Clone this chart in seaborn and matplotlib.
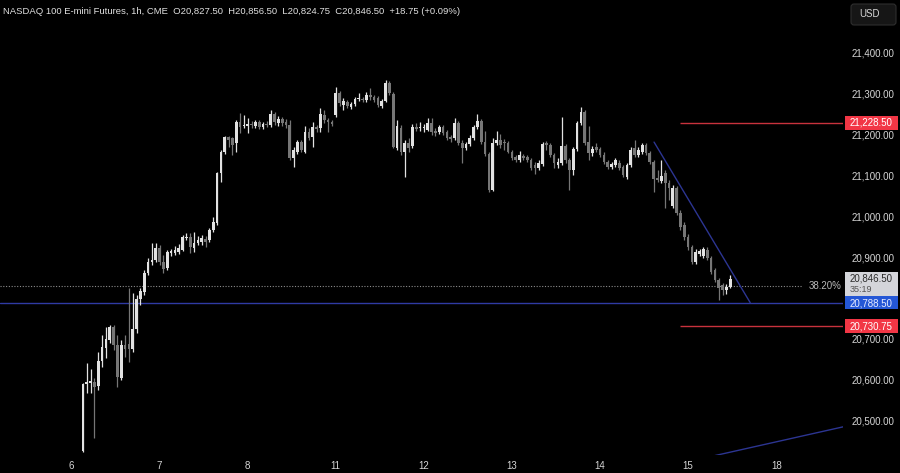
import numpy as np
import pandas as pd
import matplotlib
matplotlib.use("Agg")
import matplotlib.pyplot as plt
import matplotlib.transforms as mtransforms
from matplotlib.patches import Rectangle, FancyBboxPatch
import seaborn as sns

# ---------------- data ----------------
opens = [20425, 20589, 20592, 20594, 20584, 20645, 20677, 20697, 20728, 20685,
         20604, 20685, 20687, 20675, 20724, 20797, 20814, 20861, 20887, 20892,
         20922, 20887, 20873, 20909, 20909, 20912, 20917, 20946, 20949, 20922,
         20934, 20936, 20944, 20941, 20966, 20983, 21105, 21156, 21193, 21191,
         21178, 21230, 21220, 21220, 21225, 21220, 21230, 21218, 21225, 21222,
         21249, 21228, 21237, 21230, 21223, 21142, 21156, 21181, 21156, 21206,
         21193, 21218, 21215, 21247, 21235, 21230, 21247, 21301, 21271, 21279,
         21267, 21274, 21286, 21286, 21284, 21296, 21291, 21289, 21269, 21281,
         21326, 21298, 21166, 21215, 21156, 21178, 21171, 21218, 21215, 21215,
         21211, 21227, 21208, 21205, 21218, 21205, 21193, 21191, 21227, 21178,
         21166, 21176, 21191, 21218, 21232, 21181, 21152, 21064, 21178, 21186,
         21181, 21178, 21156, 21144, 21137, 21147, 21144, 21137, 21125, 21117,
         21127, 21178, 21174, 21149, 21125, 21130, 21171, 21137, 21113, 21164,
         21227, 21254, 21181, 21154, 21169, 21164, 21149, 21132, 21120, 21125,
         21130, 21120, 21095, 21125, 21166, 21149, 21157, 21174, 21154, 21132,
         21093, 21086, 21105, 21081, 21024, 21068, 21008, 20978, 20949, 20924,
         20887, 20907, 20902, 20917, 20897, 20868, 20844, 20831, 20819, 20827.5]
highs = [20592, 20640, 20626, 20604, 20667, 20709, 20728, 20733, 20733, 20709,
         20697, 20709, 20824, 20812, 20807, 20824, 20868, 20897, 20934, 20934,
         20929, 20904, 20917, 20919, 20927, 20931, 20953, 20958, 20958, 20961,
         20951, 20953, 20951, 20971, 20997, 21108, 21161, 21195, 21195, 21193,
         21235, 21252, 21247, 21240, 21232, 21235, 21235, 21230, 21232, 21259,
         21254, 21245, 21242, 21237, 21235, 21169, 21186, 21186, 21220, 21215,
         21230, 21223, 21264, 21259, 21240, 21235, 21316, 21306, 21288, 21284,
         21279, 21291, 21301, 21291, 21303, 21313, 21296, 21293, 21286, 21333,
         21330, 21303, 21235, 21223, 21186, 21191, 21225, 21227, 21230, 21225,
         21240, 21240, 21215, 21223, 21223, 21211, 21198, 21240, 21232, 21186,
         21181, 21198, 21223, 21249, 21237, 21208, 21157, 21191, 21208, 21200,
         21188, 21183, 21162, 21149, 21159, 21152, 21149, 21142, 21132, 21137,
         21181, 21183, 21178, 21154, 21142, 21242, 21176, 21142, 21169, 21232,
         21267, 21259, 21220, 21171, 21178, 21169, 21157, 21137, 21132, 21142,
         21137, 21125, 21130, 21169, 21186, 21169, 21178, 21178, 21159, 21137,
         21113, 21137, 21113, 21088, 21076, 21073, 21015, 20985, 20956, 20929,
         20919, 20919, 20924, 20924, 20902, 20873, 20849, 20836, 20834, 20856.5]
lows = [20423, 20567, 20567, 20457, 20574, 20631, 20653, 20689, 20672, 20582,
        20599, 20655, 20643, 20667, 20714, 20782, 20807, 20856, 20880, 20887,
        20880, 20861, 20868, 20902, 20905, 20907, 20914, 20941, 20909, 20912,
        20929, 20929, 20924, 20936, 20961, 20978, 21083, 21151, 21169, 21149,
        21156, 21203, 21215, 21203, 21215, 21215, 21213, 21213, 21218, 21218,
        21223, 21220, 21220, 21215, 21137, 21120, 21151, 21156, 21154, 21186,
        21169, 21205, 21205, 21227, 21205, 21220, 21242, 21269, 21259, 21264,
        21262, 21269, 21281, 21279, 21279, 21284, 21279, 21267, 21264, 21279,
        21296, 21166, 21162, 21149, 21095, 21156, 21166, 21208, 21208, 21205,
        21208, 21198, 21196, 21200, 21198, 21186, 21181, 21186, 21174, 21130,
        21162, 21171, 21186, 21213, 21176, 21147, 21059, 21061, 21174, 21166,
        21162, 21154, 21137, 21132, 21132, 21137, 21132, 21113, 21103, 21113,
        21122, 21162, 21144, 21117, 21117, 21125, 21130, 21064, 21100, 21159,
        21223, 21174, 21137, 21147, 21157, 21144, 21127, 21115, 21115, 21120,
        21113, 21095, 21090, 21120, 21144, 21144, 21151, 21149, 21127, 21059,
        21083, 21081, 21020, 21039, 21020, 21003, 20966, 20942, 20917, 20883,
        20883, 20902, 20897, 20893, 20858, 20839, 20795, 20807, 20809, 20824.75]
closes = [20589, 20594, 20596, 20582, 20645, 20680, 20699, 20728, 20685, 20606,
          20685, 20675, 20675, 20724, 20797, 20817, 20861, 20887, 20892, 20922,
          20887, 20870, 20912, 20914, 20917, 20922, 20949, 20949, 20924, 20934,
          20941, 20946, 20936, 20966, 20985, 21105, 21156, 21193, 21186, 21174,
          21230, 21218, 21222, 21225, 21222, 21230, 21218, 21225, 21222, 21249,
          21230, 21237, 21228, 21223, 21142, 21162, 21181, 21162, 21206, 21191,
          21218, 21213, 21249, 21235, 21230, 21225, 21301, 21276, 21281, 21269,
          21274, 21286, 21287, 21284, 21296, 21291, 21284, 21271, 21281, 21326,
          21301, 21169, 21220, 21156, 21178, 21166, 21218, 21213, 21218, 21216,
          21227, 21205, 21203, 21218, 21203, 21191, 21188, 21227, 21178, 21166,
          21176, 21191, 21218, 21232, 21181, 21152, 21064, 21178, 21186, 21174,
          21178, 21156, 21142, 21137, 21149, 21142, 21137, 21117, 21117, 21130,
          21176, 21174, 21149, 21130, 21132, 21171, 21137, 21113, 21164, 21227,
          21254, 21178, 21154, 21164, 21162, 21149, 21132, 21120, 21127, 21137,
          21117, 21100, 21125, 21162, 21149, 21162, 21174, 21154, 21132, 21090,
          21088, 21098, 21081, 21068, 21068, 21008, 20973, 20949, 20924, 20887,
          20912, 20914, 20919, 20897, 20863, 20844, 20824, 20819, 20827, 20846.5]

day_labels = ["6", "7", "8", "11", "12", "13", "14", "15", "18"]
day_start_bar = [-3, 20, 43, 66, 89, 112, 135, 158, 181]
price_ticks = [20500, 20600, 20700, 20800, 20900, 21000, 21100, 21200, 21300, 21400]

resistance_level = 21228.50
support_level = 20730.75
blue_level = 20788.50
fib_level = 20829.0
fib_label = "38.20%"
last_price = 20846.50
countdown = "35:19"
level_start_bar = 156
trend_down_x = [149.1, 174.2]
trend_down_y = [21181.0, 20788.5]
trend_up_x = [160.0, 200.0]
trend_up_y = [20404.0, 20488.0]
header = ("NASDAQ 100 E-mini Futures, 1h, CME  O20,827.50  H20,856.50  "
          "L20,824.75  C20,846.50  +18.75 (+0.09%)")

# ---------------- style ----------------
sns.set_theme(style="dark", rc={"axes.facecolor": "black", "figure.facecolor": "black",
                                "axes.grid": False})
plt.rcParams['font.family'] = ['Liberation Sans', 'DejaVu Sans']

W, H = 900, 473
fig = plt.figure(figsize=(W / 100, H / 100), dpi=100)
plot_right = 843
plot_bottom = 455
ax = fig.add_axes([0, (H - plot_bottom) / H, plot_right / W, plot_bottom / H])
ax.set_facecolor("black")

px_per_bar = 3.83
first_x = 83
x_lo = (0 - first_x) / px_per_bar
x_hi = (plot_right - first_x) / px_per_bar
y_hi = 21528.4
unit_per_px = 2.445
y_lo = y_hi - plot_bottom * unit_per_px

df = pd.DataFrame({"open": opens, "high": highs, "low": lows, "close": closes})
df["bar"] = np.arange(len(df))
up = df["close"] >= df["open"]
up_col, dn_col = "#e2e2e2", "#767676"
colors = np.where(up, up_col, dn_col)

ax.vlines(df["bar"], df["low"], df["high"], colors=colors, linewidth=0.9, zorder=3)
body_bottom = np.minimum(df["open"], df["close"])
body_h = np.maximum((df["close"] - df["open"]).abs(), 2.4)
ax.bar(df["bar"], body_h, bottom=body_bottom, width=0.7, color=colors, linewidth=0, zorder=4)

# levels
ax.hlines(fib_level, x_lo, (802 - first_x) / px_per_bar, colors="#8c8c8c",
          linestyles=(0, (1, 1.5)), linewidth=0.8, zorder=2)
ax.text((809 - first_x) / px_per_bar, fib_level, fib_label, color="#b8b8b8", fontsize=7,
        va="center", ha="left", zorder=5)
ax.axhline(blue_level, color="#2f3aa3", linewidth=1.0, zorder=2)
ax.hlines([resistance_level, support_level], level_start_bar, x_hi, colors="#c8323d",
          linewidth=1.0, zorder=2)

sns.lineplot(x=trend_down_x, y=trend_down_y, ax=ax, color="#2c3592", linewidth=1.0, zorder=5)
sns.lineplot(x=trend_up_x, y=trend_up_y, ax=ax, color="#2c3592", linewidth=1.0, zorder=5)
ax.set_xlim(x_lo, x_hi)
ax.set_ylim(y_lo, y_hi)

# current-price / blue label region (tick labels under it are hidden, as in TradingView)
cur_top = y_hi - 272 * unit_per_px
cur_bot = y_hi - 297 * unit_per_px
blue_h = 13 * unit_per_px
covered_lo = blue_level - blue_h / 2 - 4 * unit_per_px
covered_hi = cur_top + 4 * unit_per_px

# axes ticks
for s in ax.spines.values():
    s.set_visible(False)
ax.yaxis.tick_right()
ax.set_yticks(price_ticks)
ax.set_yticklabels(["" if covered_lo < v < covered_hi else f"{v:,.2f}" for v in price_ticks])
ax.tick_params(axis="y", length=0, pad=6.5, labelsize=7, labelcolor="#d6d6d6")
ax.set_xticks(day_start_bar)
ax.set_xticklabels(day_labels)
ax.tick_params(axis="x", length=0, pad=4, labelsize=7, labelcolor="#d6d6d6")
ax.set_xlabel("")
ax.set_ylabel("")

# price label boxes
trans = mtransforms.blended_transform_factory(ax.transAxes, ax.transData)
bx0 = 845 / plot_right
bw = 53 / plot_right
tx = 850 / plot_right


def price_box(center, h_px, fc, zorder=10):
    h = h_px * unit_per_px
    ax.add_patch(Rectangle((bx0, center - h / 2), bw, h, transform=trans, facecolor=fc,
                           edgecolor="none", clip_on=False, zorder=zorder))


price_box(resistance_level, 14, "#f23645")
ax.text(tx, resistance_level, f"{resistance_level:,.2f}", transform=trans, color="white",
        fontsize=7, va="center", ha="left", zorder=11, clip_on=False)
price_box(support_level, 14, "#f23645")
ax.text(tx, support_level, f"{support_level:,.2f}", transform=trans, color="white",
        fontsize=7, va="center", ha="left", zorder=11, clip_on=False)

ax.add_patch(Rectangle((bx0, cur_bot), bw, cur_top - cur_bot, transform=trans,
                       facecolor="#d4d5da", edgecolor="none", clip_on=False, zorder=10))
ax.text(tx, last_price, f"{last_price:,.2f}", transform=trans, color="#2b2b2b",
        fontsize=7, va="center", ha="left", zorder=11, clip_on=False)
ax.text(tx, y_hi - 289.5 * unit_per_px, countdown, transform=trans, color="#555555",
        fontsize=6.5, va="center", ha="left", zorder=11, clip_on=False)
price_box(blue_level, 13, "#2457d6", zorder=12)
ax.text(tx, blue_level - 0.5 * unit_per_px, f"{blue_level:,.2f}", transform=trans,
        color="#e8ecff", fontsize=7, va="center", ha="left", zorder=13, clip_on=False)

# header and USD box
fig.text(3 / W, 1 - 12 / H, header, color="#e0e0e0", fontsize=6.8, va="center", ha="left")
fig.patches.append(FancyBboxPatch((851 / 100, (H - 25) / 100), 0.45, 0.21,
                                  boxstyle="round,pad=0,rounding_size=0.03",
                                  transform=fig.dpi_scale_trans, facecolor="#161616",
                                  edgecolor="#2e2e2e", linewidth=0.8))
fig.text(859 / W, 1 - 14 / H, "USD", color="#d6d6d6", fontsize=7, va="center", ha="left")

fig.savefig("out.png", dpi=100, facecolor="black")
